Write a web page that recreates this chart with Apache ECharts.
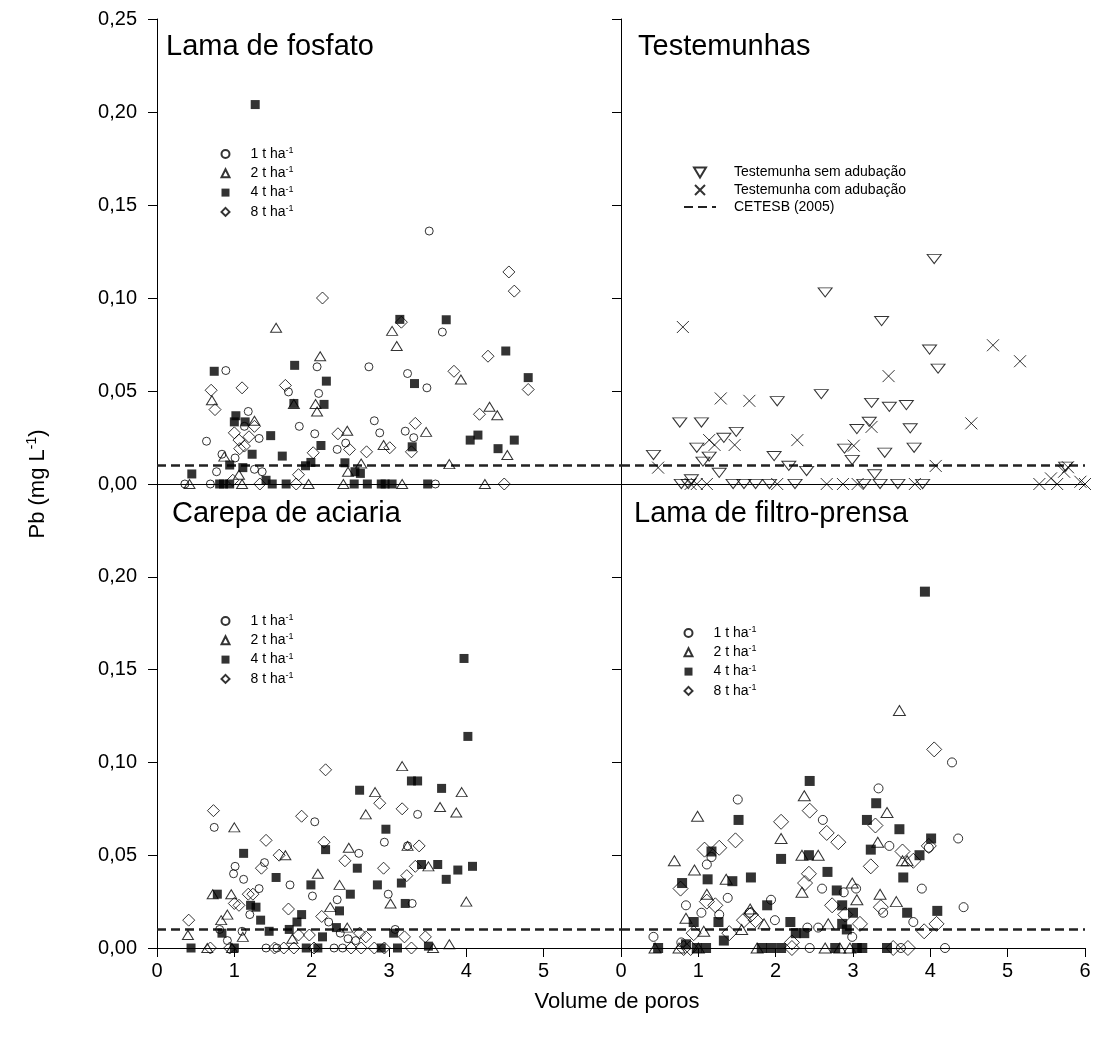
<!DOCTYPE html>
<html>
<head>
<meta charset="utf-8">
<title>Pb lixiviado</title>
<script src="https://cdn.jsdelivr.net/npm/echarts/dist/echarts.min.js"></script>
<style>
html, body { margin: 0; background: #fff; }
#chart { width: 1094px; height: 1037px; }
</style>
</head>
<body>
<div id="chart"></div>
<script>
// Pb (mg L-1) x volume de poros, 4 paineis

// Lama de fosfato
var fosfato1 = [[0.89,0.061],[0.64,0.023],[1.18,0.039],[1.13,0.031],[1.32,0.0245],[0.84,0.016],[1.01,0.014],[0.77,0.0066],[1.26,0.0079],[1.36,0.0066],[1.84,0.031],[1.70,0.0495],[2.07,0.063],[2.09,0.0487],[2.04,0.027],[2.33,0.0186],[2.44,0.022],[2.74,0.063],[2.81,0.034],[2.88,0.0275],[3.52,0.136],[3.69,0.0817],[3.24,0.0594],[3.49,0.0517],[3.21,0.0284],[3.32,0.0249],[0.36,0],[0.69,0],[3.60,0]];
var fosfato2 = [[1.54,0.084],[2.11,0.0687],[0.71,0.045],[1.26,0.034],[2.07,0.039],[2.05,0.043],[1.77,0.043],[2.46,0.0286],[2.93,0.021],[3.04,0.0823],[3.10,0.0742],[0.87,0.0147],[2.64,0.011],[2.47,0.0066],[1.06,0.005],[3.93,0.0562],[3.48,0.028],[4.30,0.0415],[4.40,0.037],[4.53,0.0156],[3.78,0.0107],[0.42,0],[1.10,0],[1.96,0],[2.41,0],[3.17,0],[4.24,0]];
var fosfato4 = [[1.27,0.204],[0.74,0.0606],[1.78,0.0638],[2.19,0.0553],[1.77,0.0433],[2.16,0.0428],[1.02,0.0367],[1.00,0.0334],[1.14,0.0334],[1.47,0.026],[1.23,0.016],[1.62,0.015],[2.12,0.0207],[0.45,0.0054],[0.94,0.0102],[1.11,0.0088],[1.92,0.0098],[1.99,0.0116],[2.43,0.0114],[2.56,0.0066],[2.63,0.0057],[3.14,0.0885],[3.74,0.0883],[4.51,0.0715],[4.80,0.0572],[3.33,0.054],[4.05,0.0236],[4.15,0.0263],[4.41,0.019],[4.62,0.0236],[3.30,0.020],[0.81,0],[0.86,0],[0.94,0],[1.41,0.002],[1.49,0],[1.67,0],[2.55,0],[2.72,0],[2.90,0],[2.95,0],[3.04,0],[3.50,0]];
var fosfato8 = [[2.14,0.100],[0.70,0.0504],[1.10,0.0517],[0.75,0.040],[1.66,0.053],[1.00,0.0275],[1.06,0.0236],[1.19,0.0254],[1.13,0.0204],[1.07,0.019],[1.26,0.031],[2.02,0.0168],[2.34,0.027],[2.49,0.0186],[2.71,0.0173],[1.83,0.005],[4.55,0.114],[4.62,0.1037],[3.16,0.087],[4.28,0.0687],[3.84,0.0606],[4.80,0.0508],[3.34,0.0326],[4.17,0.0375],[3.01,0.0195],[3.29,0.0173],[0.98,0.002],[1.33,0],[1.80,0],[4.49,0]];

// Testemunhas
var semAdub = [[2.64,0.103],[2.59,0.0483],[2.02,0.0445],[0.76,0.0331],[1.04,0.0331],[1.49,0.028],[1.33,0.0248],[0.98,0.0195],[1.14,0.0147],[1.06,0.012],[0.42,0.0156],[1.27,0.006],[1.98,0.015],[2.17,0.0098],[2.40,0.007],[2.89,0.019],[2.99,0.0129],[3.05,0.0295],[4.05,0.121],[3.37,0.0876],[3.99,0.0723],[4.10,0.062],[3.24,0.0436],[3.47,0.0415],[3.69,0.0424],[3.21,0.0334],[3.74,0.0299],[3.79,0.0195],[3.41,0.0168],[3.28,0.0052],[5.75,0.0093],[0.78,0],[0.87,0],[0.91,0.0025],[1.45,0],[1.59,0],[1.74,0],[1.92,0],[2.25,0],[3.14,0],[3.35,0],[3.58,0],[3.90,0]];
var comAdub = [[0.80,0.0844],[1.29,0.046],[1.66,0.0447],[2.28,0.0236],[1.47,0.021],[1.14,0.0236],[1.21,0.021],[0.48,0.0088],[3.01,0.0206],[4.81,0.0746],[5.16,0.066],[3.46,0.058],[4.53,0.0326],[3.24,0.0307],[4.07,0.0097],[0.90,0],[0.98,0],[1.11,0],[2.02,0],[2.66,0],[2.87,0],[3.06,0],[3.80,0],[5.41,0],[5.56,0.003],[5.64,0],[5.73,0.0066],[5.78,0.009],[5.94,0.0012],[6.0,0]];

// Carepa de aciaria
var carepa1 = [[0.74,0.065],[1.01,0.044],[0.99,0.040],[1.12,0.037],[2.04,0.068],[1.39,0.046],[1.32,0.032],[1.20,0.018],[1.72,0.034],[2.01,0.028],[2.33,0.026],[2.61,0.051],[2.94,0.057],[2.22,0.014],[2.37,0.008],[2.47,0.005],[2.57,0.004],[1.10,0.009],[0.81,0.010],[0.91,0.004],[2.99,0.029],[3.37,0.072],[3.24,0.055],[3.30,0.024],[3.08,0.010],[1.41,0],[1.55,0],[2.29,0],[2.40,0]];
var carepa2 = [[1.00,0.065],[2.82,0.084],[2.70,0.072],[2.48,0.054],[1.66,0.050],[2.08,0.040],[2.36,0.034],[2.24,0.022],[0.72,0.029],[0.96,0.029],[0.91,0.018],[0.83,0.015],[0.40,0.007],[1.11,0.006],[1.75,0.005],[2.46,0.011],[3.17,0.098],[3.94,0.084],[3.66,0.076],[3.87,0.073],[3.24,0.055],[3.51,0.044],[3.02,0.024],[4.00,0.025],[3.78,0.002],[0.65,0],[0.97,0],[3.57,0]];
var carepa4 = [[1.12,0.051],[0.78,0.029],[1.21,0.023],[1.28,0.022],[1.34,0.015],[1.54,0.038],[0.84,0.008],[1.45,0.009],[1.99,0.034],[2.18,0.053],[1.87,0.018],[1.81,0.014],[1.71,0.010],[2.14,0.006],[2.32,0.011],[2.50,0.029],[2.36,0.020],[2.59,0.043],[2.62,0.085],[2.85,0.034],[2.96,0.064],[3.97,0.156],[4.02,0.114],[3.29,0.090],[3.37,0.090],[3.68,0.086],[3.42,0.045],[3.63,0.045],[3.89,0.042],[4.08,0.044],[3.74,0.037],[3.16,0.035],[3.21,0.024],[3.06,0.008],[0.44,0],[1.00,0],[1.93,0],[2.08,0],[2.90,0],[3.11,0],[3.51,0.001]];
var carepa8 = [[0.73,0.074],[2.18,0.096],[1.41,0.058],[1.87,0.071],[2.88,0.078],[2.16,0.057],[1.58,0.050],[1.35,0.043],[2.43,0.047],[2.93,0.043],[0.41,0.015],[1.00,0.024],[1.06,0.023],[1.18,0.029],[1.24,0.029],[1.70,0.021],[2.13,0.017],[1.83,0.007],[1.97,0.007],[2.62,0.008],[2.70,0.006],[3.17,0.075],[3.39,0.055],[3.23,0.039],[3.34,0.044],[3.20,0.006],[3.47,0.006],[0.69,0],[0.94,0],[1.52,0],[1.64,0],[1.77,0],[2.03,0],[2.51,0],[2.64,0],[2.81,0],[2.94,0],[3.29,0]];

// Lama de filtro-prensa
var filtro1 = [[1.51,0.080],[1.17,0.049],[1.11,0.045],[0.84,0.023],[1.04,0.019],[1.27,0.018],[1.38,0.027],[0.42,0.006],[1.94,0.026],[1.99,0.015],[2.61,0.069],[2.60,0.032],[2.88,0.030],[3.04,0.032],[2.41,0.011],[2.55,0.011],[2.99,0.006],[0.78,0.003],[1.66,0.019],[4.28,0.100],[3.33,0.086],[4.36,0.059],[3.98,0.054],[3.47,0.055],[3.89,0.032],[3.39,0.019],[4.43,0.022],[3.78,0.014],[2.44,0],[3.62,0],[4.19,0]];
var filtro2 = [[0.99,0.071],[0.69,0.047],[0.95,0.042],[1.11,0.029],[0.84,0.016],[1.07,0.009],[1.36,0.037],[1.67,0.021],[1.85,0.013],[1.56,0.010],[2.37,0.082],[2.07,0.059],[2.34,0.050],[2.55,0.050],[2.34,0.030],[2.68,0.013],[2.99,0.035],[3.60,0.128],[3.44,0.073],[3.32,0.057],[3.64,0.047],[3.70,0.047],[3.35,0.029],[3.56,0.025],[3.05,0.026],[0.44,0],[0.75,0],[1.00,0],[1.76,0],[2.64,0],[2.83,0],[2.96,0]];
var filtro4 = [[2.44,0.090],[1.52,0.069],[2.07,0.048],[2.43,0.050],[1.17,0.052],[0.79,0.035],[1.12,0.037],[1.44,0.036],[1.68,0.038],[1.89,0.023],[2.67,0.041],[2.79,0.031],[2.86,0.023],[3.00,0.019],[0.94,0.014],[1.26,0.014],[1.33,0.004],[2.19,0.014],[2.26,0.008],[2.37,0.008],[2.86,0.013],[2.92,0.010],[3.93,0.192],[3.30,0.078],[3.18,0.069],[3.60,0.064],[4.01,0.059],[3.23,0.053],[3.86,0.050],[3.65,0.038],[3.70,0.019],[4.09,0.020],[0.48,0],[0.84,0.002],[0.98,0],[1.10,0],[1.82,0],[1.94,0],[2.07,0],[2.77,0],[3.05,0],[3.12,0],[3.44,0]];
var filtro8 = [[2.07,0.068],[2.44,0.074],[2.66,0.062],[2.81,0.057],[1.48,0.058],[1.08,0.053],[1.27,0.054],[2.43,0.040],[2.38,0.035],[0.77,0.032],[1.11,0.025],[1.22,0.023],[2.73,0.023],[1.68,0.018],[1.59,0.015],[1.74,0.015],[1.40,0.008],[0.94,0.008],[2.90,0.018],[2.21,0.003],[4.05,0.107],[3.29,0.066],[3.98,0.055],[3.64,0.052],[3.78,0.047],[3.23,0.044],[3.36,0.022],[4.08,0.013],[3.92,0.009],[3.09,0.013],[0.81,0],[0.90,0],[2.21,0],[3.52,0],[3.71,0]];

// limite CETESB (2005)
var cetesbX = [0, 6];
var cetesbPb = 0.01;

var panelTitles = ['Lama de fosfato', 'Testemunhas', 'Carepa de aciaria', 'Lama de filtro-prensa'];
var doseNames = ['1 t ha-1', '2 t ha-1', '4 t ha-1', '8 t ha-1'];
var testNames = ['Testemunha sem adubação', 'Testemunha com adubação', 'CETESB (2005)'];

var FONT = '"Liberation Sans", Arial, sans-serif';
var chart = echarts.init(document.getElementById('chart'), null, { renderer: 'canvas' });

function fmt(v) {
    return v.toFixed(2).replace('.', ',');
}

// open / filled markers
function scat(name, data, g, symbol, size, filled) {
    return {
        type: 'scatter',
        name: name,
        data: data,
        xAxisIndex: g,
        yAxisIndex: g,
        symbol: symbol,
        symbolSize: size,
        symbolKeepAspect: true,
        itemStyle: filled ? { color: '#000', borderWidth: 0 } : { color: 'none', borderColor: '#000', borderWidth: 1 },
        silent: true,
        z: 3
    };
}

function cetesbLine(g) {
    return {
        type: 'line',
        name: testNames[2],
        xAxisIndex: g,
        yAxisIndex: g,
        data: cetesbX.map(function (x) { return [x, cetesbPb]; }),
        symbol: 'none',
        silent: true,
        itemStyle: { color: 'none', borderWidth: 0 },
        lineStyle: { color: '#222', width: 2.5, type: [9, 5] },
        z: 2
    };
}

var crossPath = 'path://M0,0L10,10M10,0L0,10';
var downTriangle = 'path://M0,0L12,0L6,10Z';

var grids = [
    { left: 157, top: 19, width: 464, height: 465 },
    { left: 621, top: 19, width: 464, height: 465 },
    { left: 157, top: 484, width: 464, height: 464 },
    { left: 621, top: 484, width: 464, height: 464 }
];
grids.forEach(function (g) { g.containLabel = false; g.outerBoundsMode = 'none'; });

var axLine = { show: true, onZero: false, lineStyle: { color: '#000', width: 1 } };
var axTick = { show: true, length: 9, lineStyle: { color: '#000', width: 1 } };
var lblStyle = { fontFamily: FONT, fontSize: 20, color: '#000' };

var xAxes = [0, 1, 2, 3].map(function (i) {
    var bottom = i >= 2;
    return {
        type: 'value', gridIndex: i, min: 0, max: 6, interval: 1,
        axisLine: axLine,
        axisTick: bottom ? axTick : { show: false },
        axisLabel: bottom ? Object.assign({
            margin: 13,
            formatter: function (v) { return (i === 2 && v === 6) ? '' : String(v); }
        }, lblStyle) : { show: false },
        splitLine: { show: false }
    };
});

var yAxes = [0, 1, 2, 3].map(function (i) {
    var left = i % 2 === 0;
    return {
        type: 'value', gridIndex: i, min: 0, max: 0.25, interval: 0.05,
        axisLine: axLine,
        axisTick: axTick,
        axisLabel: left ? Object.assign({
            margin: 20,
            formatter: function (v) { return (i === 2 && v > 0.24) ? '' : fmt(v); }
        }, lblStyle) : { show: false },
        splitLine: { show: false }
    };
});

var series = [
    cetesbLine(0), cetesbLine(1), cetesbLine(2), cetesbLine(3),
    scat(doseNames[0], fosfato1, 0, 'circle', 8, false),
    scat(doseNames[1], fosfato2, 0, 'triangle', [11, 9], false),
    scat(doseNames[2], fosfato4, 0, 'rect', 9, true),
    scat(doseNames[3], fosfato8, 0, 'diamond', 12, false),
    scat(testNames[0], semAdub, 1, downTriangle, [14, 11], false),
    scat(testNames[1], comAdub, 1, crossPath, 12, false),
    scat(doseNames[0], carepa1, 2, 'circle', 8, false),
    scat(doseNames[1], carepa2, 2, 'triangle', [11, 9], false),
    scat(doseNames[2], carepa4, 2, 'rect', 9, true),
    scat(doseNames[3], carepa8, 2, 'diamond', 12, false),
    scat(doseNames[0], filtro1, 3, 'circle', 9, false),
    scat(doseNames[1], filtro2, 3, 'triangle', [12, 10], false),
    scat(doseNames[2], filtro4, 3, 'rect', 10, true),
    scat(doseNames[3], filtro8, 3, 'diamond', 15, false)
];

var legRich = {
    n: { fontFamily: FONT, fontSize: 14, color: '#000', lineHeight: 16 },
    s: { fontFamily: FONT, fontSize: 9, color: '#000', lineHeight: 8, verticalAlign: 'top' },
    p: { width: 13 },
    q: { width: 16 }
};

// square icon box so the built-in symbols keep their shape
function doseLegend(left, top) {
    return {
        data: doseNames, orient: 'vertical', left: left, top: top,
        padding: 0, itemGap: 4.3, itemWidth: 8, itemHeight: 8,
        selectedMode: false,
        textStyle: { rich: legRich },
        formatter: function (name) {
            return '{q| }{n|' + name.replace('-1', '') + '}{s|-1}';
        }
    };
}

var legends = [
    doseLegend(219, 146),
    {
        data: testNames, orient: 'vertical', left: 683, top: 165,
        padding: 0, itemGap: 2.5, itemWidth: 32, itemHeight: 10,
        symbolKeepAspect: true,
        selectedMode: false,
        textStyle: { rich: legRich },
        formatter: function (name) { return '{p| }{n|' + name + '}'; }
    },
    doseLegend(219, 613),
    doseLegend(682, 625)
];

var titlePos = [[166, 49], [638, 49], [172, 516], [634, 516]];

var graphics = panelTitles.map(function (t, i) {
    return {
        type: 'text', left: titlePos[i][0], top: titlePos[i][1] - 17,
        style: { text: t, font: '29px ' + FONT, fill: '#000' }
    };
});
graphics.push({
    type: 'text', x: 38, y: 484, rotation: Math.PI / 2,
    style: {
        text: '{a|Pb (mg L}{s|-1}{a|)}',
        align: 'center', verticalAlign: 'middle',
        rich: {
            a: { fontFamily: FONT, fontSize: 22, color: '#000', lineHeight: 26 },
            s: { fontFamily: FONT, fontSize: 14, color: '#000', lineHeight: 14, verticalAlign: 'top' }
        }
    }
});
graphics.push({
    type: 'text', x: 617, y: 1002,
    style: { text: 'Volume de poros', font: '22px ' + FONT, fill: '#000', align: 'center', verticalAlign: 'middle' }
});

var option = {
    animation: false,
    backgroundColor: '#fff',
    grid: grids,
    xAxis: xAxes,
    yAxis: yAxes,
    legend: legends,
    graphic: graphics,
    series: series
};

chart.setOption(option);
</script>
</body>
</html>
